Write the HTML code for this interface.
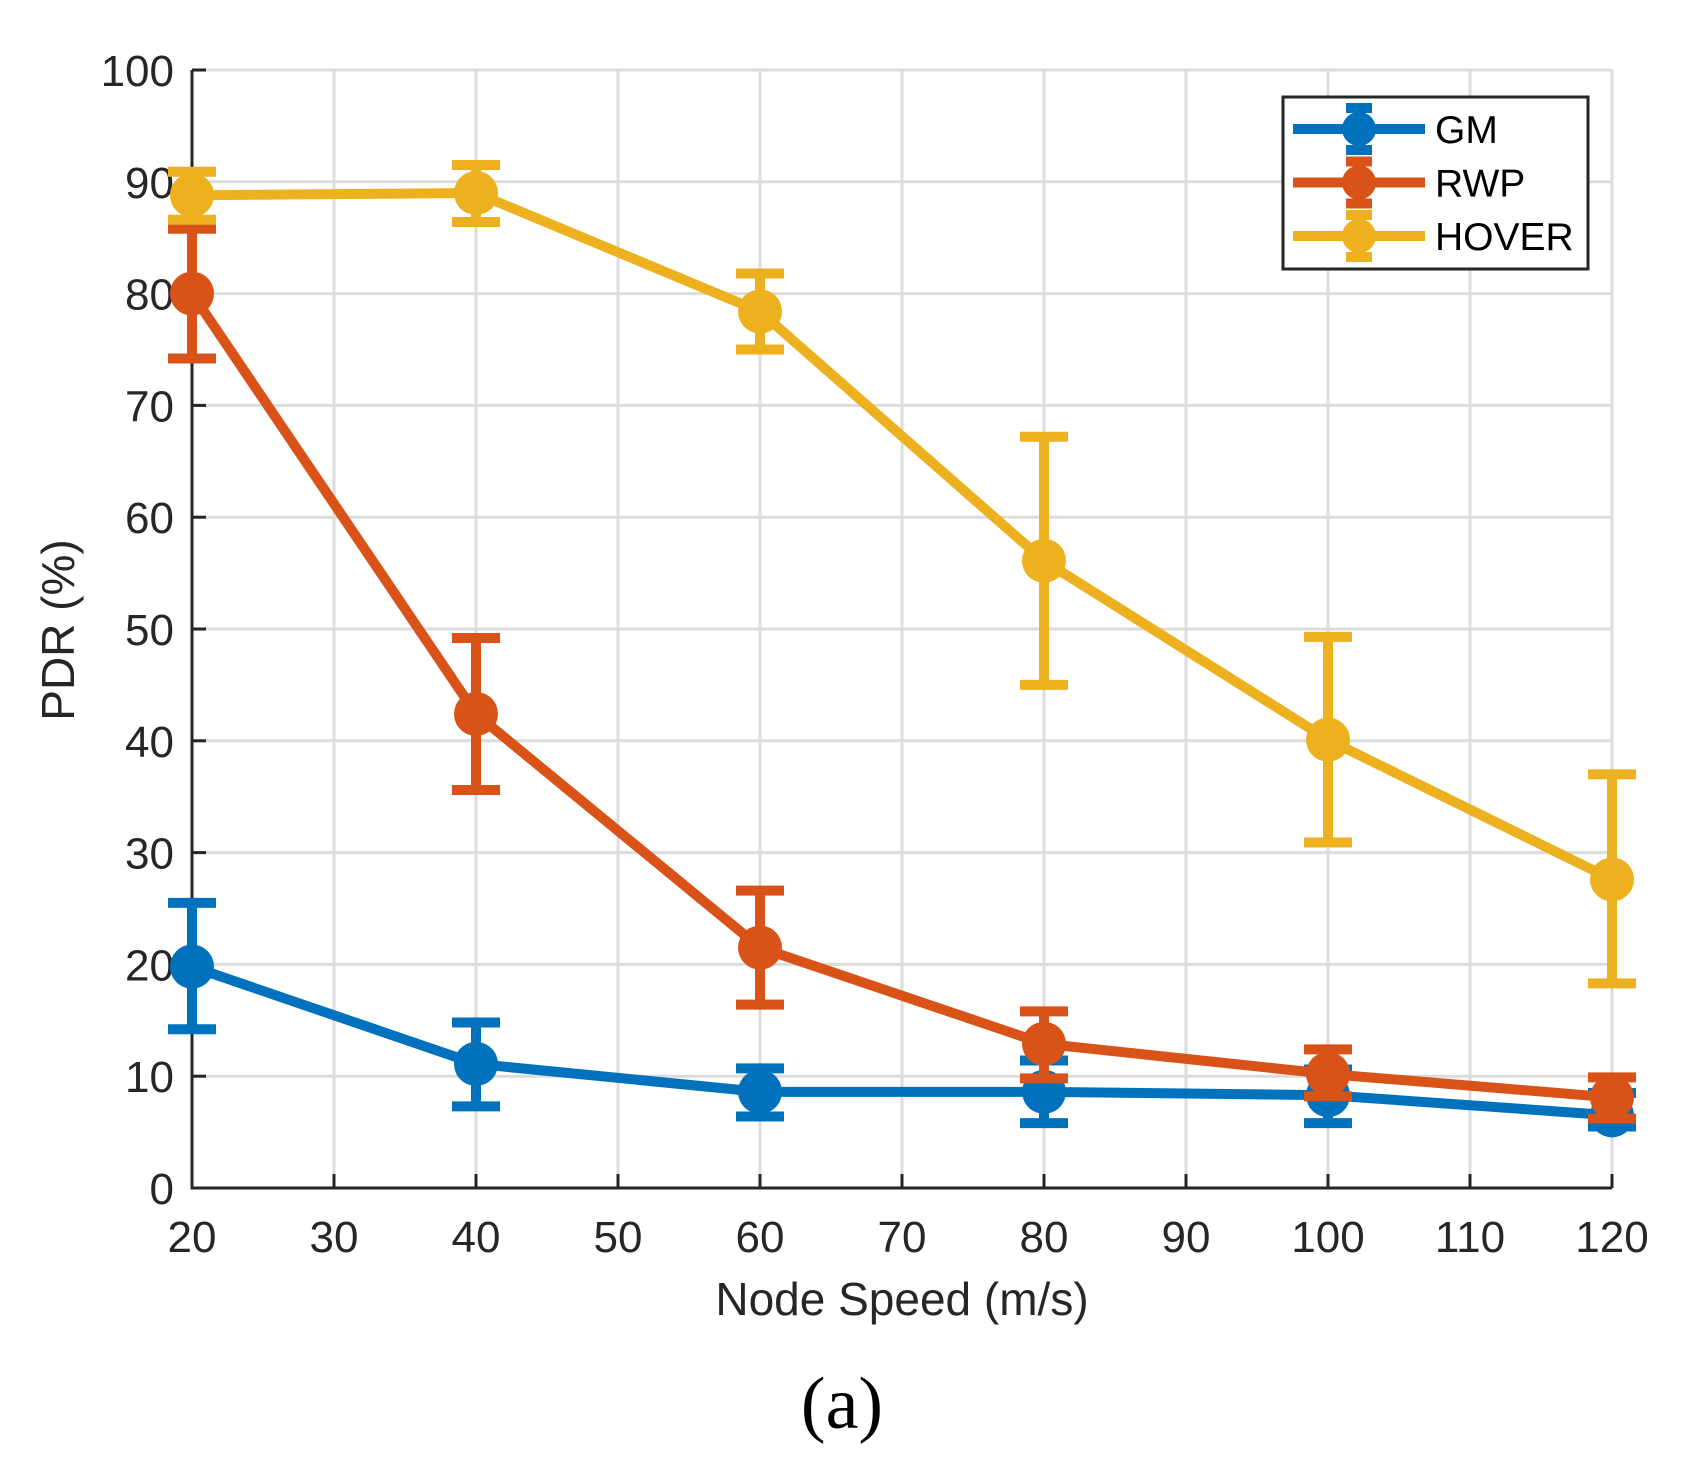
<!DOCTYPE html>
<html><head><meta charset="utf-8"><style>
html,body{margin:0;padding:0;background:#fff;}
svg text{font-family:"Liberation Sans",Arial,sans-serif;fill:#262626;}
</style></head><body>
<svg id="chart" width="1688" height="1472" viewBox="0 0 1688 1472" xmlns="http://www.w3.org/2000/svg">
<g id="grid"></g>
<g id="axes"></g>
<g id="series"></g>
<g id="legend"></g>
<text x="74" y="630" font-size="46" text-anchor="middle" transform="rotate(-90 74 630)">PDR (%)</text>
<text x="902" y="1315" font-size="46" text-anchor="middle">Node Speed (m/s)</text>
<text x="842" y="1428" font-size="74" text-anchor="middle" style="font-family:'Liberation Serif',serif;fill:#000">(a)</text>
</svg>
<script>
const speeds=[20,40,60,80,100,120];
const gmVals=[19.8,11.1,8.6,8.6,8.3,6.5];
const gmLo=[14.2,7.3,6.4,5.8,5.8,5.5];
const gmHi=[25.5,14.8,10.7,11.4,10.6,8.5];
const rwpVals=[80,42.4,21.5,12.9,10.2,8.1];
const rwpLo=[74.2,35.6,16.4,9.8,8.2,6.2];
const rwpHi=[85.8,49.2,26.6,15.8,12.4,9.9];
const hovVals=[88.8,89.0,78.4,56.1,40.1,27.6];
const hovLo=[86.6,86.4,75.0,45.0,30.9,18.3];
const hovHi=[90.9,91.5,81.8,67.2,49.3,37.0];
const xTicks=[20,30,40,50,60,70,80,90,100,110,120];
const yTicks=[0,10,20,30,40,50,60,70,80,90,100];
const seriesNames=["GM","RWP","HOVER"];
const NS="http://www.w3.org/2000/svg";
const X0=192,X1=1612,Y0=1188,Y1=70;
const xs=v=>X0+(v-20)/100*(X1-X0);
const ys=v=>Y0-v/100*(Y0-Y1);
function mk(tag,attrs,parent){const e=document.createElementNS(NS,tag);for(const k in attrs)e.setAttribute(k,attrs[k]);parent.appendChild(e);return e;}
const grid=document.getElementById('grid'),axes=document.getElementById('axes'),ser=document.getElementById('series'),leg=document.getElementById('legend');
xTicks.forEach(t=>{
 const l=mk('line',{x1:xs(t),x2:xs(t),y1:Y1,y2:Y0,stroke:'#dcdcdc','stroke-width':3},grid);
 
 
 const tk=mk('line',{x1:xs(t),x2:xs(t),y1:Y0,y2:Y0-14,stroke:'#262626','stroke-width':3},axes);
 
 
 const tx=mk('text',{x:xs(t),y:Y0+64,'font-size':44,'text-anchor':'middle'},axes);
 tx.textContent=t;
 
 
});
yTicks.forEach(t=>{
 const l=mk('line',{x1:X0,x2:X1,y1:ys(t),y2:ys(t),stroke:'#dcdcdc','stroke-width':3},grid);
 
 
 const tk=mk('line',{x1:X0,x2:X0+14,y1:ys(t),y2:ys(t),stroke:'#262626','stroke-width':3},axes);
 
 
 const tx=mk('text',{x:X0-18,y:ys(t)+16,'font-size':44,'text-anchor':'end'},axes);
 tx.textContent=t;
 
 
});
const ax=mk('path',{d:`M${X0} ${Y1} V${Y0} H${X1}`,fill:'none',stroke:'#262626','stroke-width':3},axes);


const colors=['#0072BD','#D95319','#EDB120'];
const all=[[gmVals,gmLo,gmHi],[rwpVals,rwpLo,rwpHi],[hovVals,hovLo,hovHi]];
all.forEach((s,i)=>{
 const g=mk('g',{},ser);
 
 
 const [v,lo,hi]=s;
 const pl=mk('polyline',{points:speeds.map((x,j)=>xs(x)+','+ys(v[j])).join(' '),fill:'none',stroke:colors[i],'stroke-width':10,'stroke-linejoin':'round'},g);
 
 
 speeds.forEach((x,j)=>{
  const cx=xs(x);
  const eb=mk('path',{d:`M${cx} ${ys(lo[j])} V${ys(hi[j])} M${cx-24} ${ys(lo[j])} H${cx+24} M${cx-24} ${ys(hi[j])} H${cx+24}`,stroke:colors[i],'stroke-width':10,fill:'none'},g);
  
  
  const c=mk('circle',{cx:cx,cy:ys(v[j]),r:22,fill:colors[i]},g);
  
  
 });
});
const box=mk('rect',{x:1283,y:97,width:305,height:172,fill:'#fff',stroke:'#262626','stroke-width':3},leg);


seriesNames.forEach((n,i)=>{
 const y=129+i*53.5;
 const g=mk('g',{},leg);
 
 
 mk('line',{x1:1293,x2:1425,y1:y,y2:y,stroke:colors[i],'stroke-width':10},g);
 mk('path',{d:`M1359 ${y-24} V${y+24} M1346 ${y-21} H1372 M1346 ${y+21} H1372`,stroke:colors[i],'stroke-width':10},g);
 mk('circle',{cx:1359,cy:y,r:17,fill:colors[i]},g);
 const t=mk('text',{x:1435,y:y+14,'font-size':39,style:'fill:#000'},g);
 t.textContent=n;
});
</script>
</body></html>
